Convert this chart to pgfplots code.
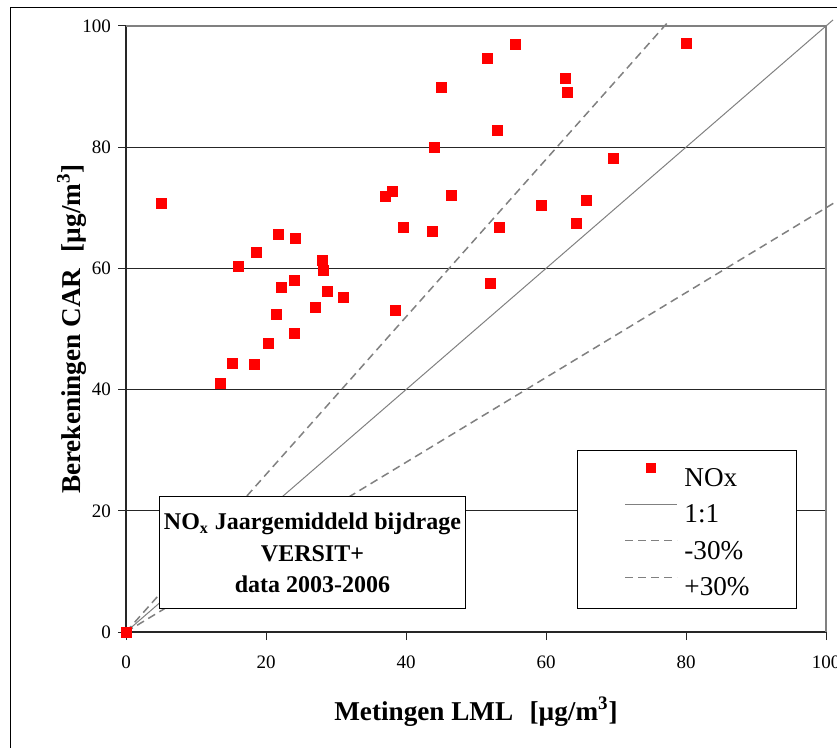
\documentclass[border=0pt]{standalone}
\usepackage{fontspec}
\setmainfont{Liberation Serif}
\usepackage{pgfplots}
\pgfplotsset{compat=1.18}

\definecolor{refgray}{RGB}{128,128,128}

\pgfplotsset{
  lineleg/.style={legend image code/.code={\draw[##1] (0pt,4.5pt) -- (26pt,4.5pt);}},
  markleg/.style={legend image code/.code={\path[draw=none, fill=none] (0pt,0pt) -- (26pt,0pt);
      \fill[red, draw=none] (10.5pt,2pt) rectangle (15.5pt,7pt);}},
}

\begin{document}
\begin{tikzpicture}
\begin{axis}[
  scale only axis, width=350pt, height=303pt,
  xmin=0, xmax=100, ymin=0, ymax=100,
  xtick={0,20,...,100}, ytick={0,20,...,100},
  axis x line*=bottom, axis y line*=left,
  axis line style={-, black!85, line width=0.6pt},
  tick align=outside, major tick length=4pt,
  tick style={black!85, line width=0.5pt},
  ymajorgrids, grid style={black!85, line width=0.5pt},
  clip=false,
  /pgf/number format/assume math mode=true,
  tick label style={font=\fontsize{9.5}{11}\selectfont},
  xticklabel style={yshift=-4.5pt},
  xlabel={Metingen LML\hspace{0.6em}[µg/m\textsuperscript{3}]},
  ylabel={Berekeningen CAR\hspace{0.6em}[µg/m\textsuperscript{3}]},
  label style={font=\bfseries\fontsize{13.6}{16}\selectfont},
  xlabel style={at={(axis description cs:0.5,-0.1452)}, anchor=base},
  ylabel style={at={(axis description cs:-0.0657,0.5)}, anchor=base},
  legend style={at={(axis description cs:0.644,0.038)}, anchor=south west,
    draw=black, line width=0.5pt, fill=white,
    font=\fontsize{13.6}{16}\selectfont,
    inner xsep=23.5pt, inner ysep=6.3pt, row sep=8.7pt, column sep=3.3pt,
    nodes={inner sep=0pt, text height=9.5pt, text depth=0pt},
    cells={anchor=west}},
]
\addlegendimage{markleg}
\addlegendentry{NOx}

\addplot[lineleg, refgray, line width=0.5pt, no marks] coordinates {(0,0) (101,101)};
\addlegendentry{1:1}
\addplot[lineleg, refgray, line width=0.75pt, no marks, dash pattern=on 4pt off 2.5pt]
  coordinates {(0,0) (102,71.4)};
\addlegendentry{-30\%}
\addplot[lineleg, refgray, line width=0.75pt, no marks, dash pattern=on 4pt off 2.5pt]
  coordinates {(0,0) (77.7,101)};
\addlegendentry{+30\%}

\addplot[forget plot, red, only marks, mark=square*, mark size=2.5pt,
  mark options={draw=red, fill=red}] coordinates {
  (0,0) (5.0,70.7) (13.5,41.1) (15.2,44.4) (16.0,60.4) (18.4,44.1)
  (18.6,62.7) (20.4,47.6) (21.5,52.4) (21.7,65.6) (22.2,56.9)
  (24.0,58.1) (24.0,49.3) (24.2,65.0) (27.0,53.5) (28.1,61.4)
  (28.2,59.6) (28.8,56.2) (31.1,55.2) (37.1,71.9) (38.0,72.7)
  (38.5,53.1) (39.6,66.7) (43.8,66.1) (44.0,80.0) (45.1,89.9)
  (46.5,72.1) (51.6,94.7) (52.1,57.5) (53.0,82.8) (53.4,66.8)
  (55.6,97.0) (59.3,70.4) (62.7,91.3) (63.0,89.1) (64.3,67.5)
  (65.8,71.3) (69.6,78.2) (80.1,97.2)
};

% grey border of the plot area
\draw[refgray, line width=0.6pt] (rel axis cs:0,1) -- (rel axis cs:1,1) -- (rel axis cs:1,0);

\node[draw=black, line width=0.5pt, fill=white, inner sep=0pt,
  minimum width=153pt, minimum height=56pt, align=center,
  font=\bfseries\fontsize{12}{15.8}\selectfont]
  at (axis cs:26.64,13.07)
  {NO\textsubscript{x} Jaargemiddeld bijdrage\\VERSIT+\\data 2003-2006};

\coordinate (bbbl) at (axis cs:-18,-18.98);
\coordinate (bbtr) at (axis cs:101.571,104.29);
\coordinate (frtl) at (axis cs:-16.5,103.09);
\end{axis}
\draw[black, line width=0.5pt] ([yshift=-10pt]frtl |- bbbl) -- (frtl) -- ([xshift=10pt]frtl -| bbtr);
\pgfresetboundingbox
\useasboundingbox (bbbl) rectangle (bbtr);
\end{tikzpicture}
\end{document}
